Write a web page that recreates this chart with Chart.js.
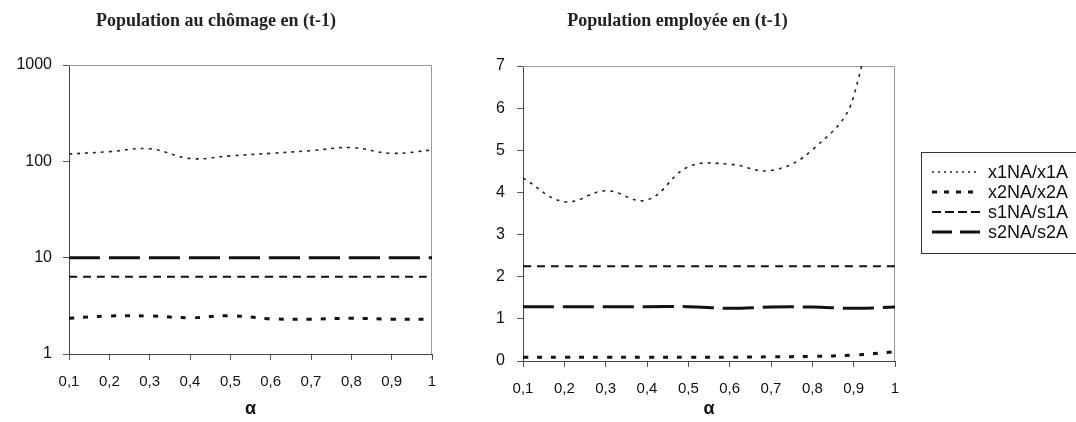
<!DOCTYPE html>
<html><head><meta charset="utf-8">
<script src="https://cdn.jsdelivr.net/npm/chart.js@4.4.1/dist/chart.umd.min.js"></script>
<style>
html,body{margin:0;padding:0;background:#fff;width:1076px;height:422px;overflow:hidden;}
#c1{position:absolute;left:0;top:0;}
#c2{position:absolute;left:460px;top:0;}
</style></head><body>
<canvas id="c1" width="460" height="422" style="width:460px;height:422px"></canvas>
<canvas id="c2" width="616" height="422" style="width:616px;height:422px"></canvas>
<script>
// ---- data ----
const categories = ['0,1','0,2','0,3','0,4','0,5','0,6','0,7','0,8','0,9','1'];
const seriesNames = ['x1NA/x1A','x2NA/x2A','s1NA/s1A','s2NA/s2A'];
const titleLeft = 'Population au chômage en (t-1)';
const titleRight = 'Population employée en (t-1)';
const axisTitle = 'α';

// left chart (log scale)
const chomX1 = [119, 126, 135, 107, 114, 121, 129, 139, 121, 131];
const chomX2 = [2.35, 2.48, 2.48, 2.38, 2.5, 2.32, 2.3, 2.35, 2.3, 2.3];
const chomS1 = [6.35, 6.35, 6.35, 6.35, 6.35, 6.35, 6.35, 6.35, 6.35, 6.35];
const chomS2 = [10, 10, 10, 10, 10, 10, 10, 10, 10, 10];
const chomTicks = [1, 10, 100, 1000];
const chomTickLabels = ['1', '10', '100', '1000'];

// right chart (linear)
const empX1 = [4.34, 3.78, 4.04, 3.82, 4.61, 4.67, 4.52, 5.01, 6.28, 12];
const empX2 = [0.09, 0.09, 0.09, 0.09, 0.09, 0.09, 0.1, 0.11, 0.14, 0.22];
const empS1 = [2.25, 2.25, 2.25, 2.25, 2.25, 2.25, 2.25, 2.25, 2.25, 2.25];
const empS2 = [1.29, 1.29, 1.29, 1.29, 1.29, 1.25, 1.28, 1.28, 1.25, 1.28];
const empTicks = [0, 1, 2, 3, 4, 5, 6, 7];

// ---- styles ----
const lineStyles = [
  {borderColor:'#222', borderWidth:1.6, borderDash:[3,5], legendDash:[2,4]},
  {borderColor:'#111', borderWidth:3, borderDash:[5,9], legendDash:[5,7]},
  {borderColor:'#111', borderWidth:2, borderDash:[8,6], legendDash:[9,4]},
  {borderColor:'#111', borderWidth:3, borderDash:[31,9], legendDash:[20,8]}
];

function makeDatasets(arrs){
  return arrs.map((d,i)=>({
    label: seriesNames[i], data: d,
    borderColor: lineStyles[i].borderColor,
    borderWidth: lineStyles[i].borderWidth,
    borderDash: lineStyles[i].borderDash,
    pointRadius: 0, pointHoverRadius: 0,
    tension: 0.4, fill: false
  }));
}

const frame = {
  id:'frame',
  beforeDatasetsDraw(chart){
    const a = chart.chartArea, ctx = chart.ctx;
    ctx.save();
    ctx.strokeStyle = '#9a9a9a'; ctx.lineWidth = 1;
    ctx.beginPath();
    ctx.moveTo(a.left, a.top+0.5); ctx.lineTo(a.right-0.5, a.top+0.5); ctx.lineTo(a.right-0.5, a.bottom);
    ctx.stroke();
    ctx.restore();
  }
};

const boxLegend = {
  id:'boxLegend',
  afterDraw(chart, args, o){
    if(!o || !o.show) return;
    const ctx = chart.ctx;
    ctx.save();
    ctx.strokeStyle = '#333'; ctx.lineWidth = 1;
    ctx.strokeRect(o.x+0.5, o.y+0.5, o.w, o.h);
    chart.data.datasets.forEach((ds,i)=>{
      const y = o.y + o.first + i*o.step;
      ctx.beginPath();
      ctx.strokeStyle = ds.borderColor;
      ctx.lineWidth = ds.borderWidth;
      ctx.setLineDash(lineStyles[i].legendDash);
      ctx.moveTo(o.x + o.lineStart, y); ctx.lineTo(o.x + o.lineEnd, y);
      ctx.stroke();
      ctx.setLineDash([]);
      ctx.fillStyle = '#111';
      ctx.font = o.font;
      ctx.textBaseline = 'middle';
      ctx.fillText(ds.label, o.x + o.textX, y+1);
    });
    ctx.restore();
  }
};

function xScale(axisH){
  return {
    type:'category', offset:false,
    grid:{display:true, drawOnChartArea:false, drawTicks:true, tickLength:6, color:'#555', offset:false},
    border:{display:true, color:'#444', width:1},
    ticks:{color:'#111', font:{family:'Liberation Sans', size:15}, padding:13, maxRotation:0, autoSkip:false},
    title:{display:true, text:axisTitle, color:'#111', font:{family:'Liberation Sans', size:18, weight:'bold'}, padding:{top:0,bottom:2}},
    afterFit(s){ s.height = axisH; }
  };
}

const titleFont = {family:'Liberation Serif', size:18, weight:'bold'};

new Chart(document.getElementById('c1'), {
  type:'line',
  data:{labels:categories, datasets: makeDatasets([chomX1, chomX2, chomS1, chomS2])},
  options:{
    responsive:false, animation:false, events:[],
    layout:{padding:{left:0, right:28, top:0, bottom:0}},
    elements:{line:{capBezierPoints:false}},
    plugins:{
      legend:{display:false}, tooltip:{enabled:false},
      title:{display:true, text:titleLeft, color:'#222', font:titleFont, padding:{top:11, bottom:32.4}}
    },
    scales:{
      x: xScale(68),
      y:{
        type:'logarithmic', min:1, max:1000,
        grid:{display:true, drawOnChartArea:false, drawTicks:true, tickLength:6, color:'#555'},
        border:{display:true, color:'#444', width:1},
        afterBuildTicks(s){ s.ticks = chomTicks.map(v=>({value:v})); },
        ticks:{color:'#111', font:{family:'Liberation Sans', size:16}, padding:11,
          callback:(v)=>{ const k = chomTicks.indexOf(v); return k>=0 ? chomTickLabels[k] : ''; }},
        afterFit(s){ s.width = 69; }
      }
    }
  },
  plugins:[frame]
});

new Chart(document.getElementById('c2'), {
  type:'line',
  data:{labels:categories, datasets: makeDatasets([empX1, empX2, empS1, empS2])},
  options:{
    responsive:false, animation:false, events:[],
    layout:{padding:{left:0, right:181, top:0, bottom:0}},
    elements:{line:{capBezierPoints:false}},
    plugins:{
      legend:{display:false}, tooltip:{enabled:false},
      title:{display:true, text:titleRight, color:'#222', font:titleFont, padding:{top:11, bottom:33.4}},
      boxLegend:{show:true, x:461, y:152, w:220, h:101, first:20, step:20, lineStart:11, lineEnd:59, textX:67, font:'18px "Liberation Sans"'}
    },
    scales:{
      x: xScale(61),
      y:{
        type:'linear', min:0, max:7,
        grid:{display:true, drawOnChartArea:false, drawTicks:true, tickLength:6, color:'#555'},
        border:{display:true, color:'#444', width:1},
        afterBuildTicks(s){ s.ticks = empTicks.map(v=>({value:v})); },
        ticks:{color:'#111', font:{family:'Liberation Sans', size:16}, padding:12},
        afterFit(s){ s.width = 63; }
      }
    }
  },
  plugins:[frame, boxLegend]
});
</script>
</body></html>
